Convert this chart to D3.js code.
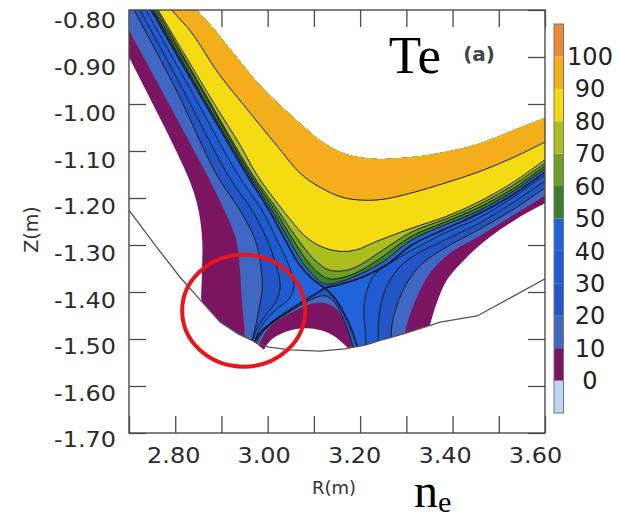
<!DOCTYPE html>
<html>
<head>
<meta charset="utf-8">
<title>Te contours</title>
<script src="https://cdn.jsdelivr.net/npm/d3@7/dist/d3.min.js"></script>
<style>
  body { margin: 0; background: #fff; }
  svg { display: block; font-family: "DejaVu Sans", sans-serif; }
</style>
</head>
<body>
<svg id="chart" width="617" height="519"></svg>
<script>
// Te (eV) in the divertor, R-Z plane.
// Contour lines as [R, Z] pairs in metres.

// colour bands, low to high
const levels = [-10, 0, 10, 20, 30, 40, 50, 60, 70, 80, 90, 100, 110];
const bandColors = ["#bcd5f0", "#7b1461", "#4068c2", "#2255c6", "#1f5bd3", "#2064dc",
                    "#3b7f2e", "#6f9e29", "#abbe1e", "#f5dc12", "#f4ad1b", "#ee8734"];
const cbLabels = [0, 10, 20, 30, 40, 50, 60, 70, 80, 90, 100];

// axes
const rTicks = [2.7, 2.8, 2.9, 3.0, 3.1, 3.2, 3.3, 3.4, 3.5, 3.6];
const rLabels = ["2.80", "3.00", "3.20", "3.40", "3.60"];
const zTicks = [-0.8, -0.9, -1.0, -1.1, -1.2, -1.3, -1.4, -1.5, -1.6, -1.7];
const zLabels = ["-0.80", "-0.90", "-1.00", "-1.10", "-1.20", "-1.30", "-1.40", "-1.50", "-1.60", "-1.70"];

// edge of the hot core region (white, not plotted)
const coreEdge = [[2.830,-0.774],[2.847,-0.800],[2.886,-0.843],[2.929,-0.896],[2.983,-0.960],[3.038,-1.013],[3.081,-1.051],[3.113,-1.077],[3.167,-1.106],[3.239,-1.117],[3.312,-1.113],[3.384,-1.102],[3.455,-1.085],[3.529,-1.057],[3.600,-1.030],[3.633,-1.017]];

// closed-around-core contours (top left -> right edge)
const te90 = [[2.784,-0.785],[2.793,-0.800],[2.836,-0.849],[2.893,-0.934],[2.957,-1.013],[3.022,-1.091],[3.070,-1.147],[3.113,-1.177],[3.167,-1.200],[3.239,-1.204],[3.312,-1.189],[3.384,-1.168],[3.455,-1.145],[3.529,-1.115],[3.600,-1.081],[3.633,-1.066]];
const te80 = [[2.754,-0.785],[2.763,-0.800],[2.821,-0.896],[2.886,-1.002],[2.940,-1.087],[2.977,-1.151],[3.033,-1.226],[3.081,-1.281],[3.113,-1.302],[3.152,-1.313],[3.189,-1.311],[3.239,-1.291],[3.312,-1.264],[3.384,-1.240],[3.455,-1.209],[3.529,-1.168],[3.600,-1.119],[3.633,-1.098]];
const te70 = [[2.751,-0.785],[2.760,-0.800],[2.854,-0.960],[2.968,-1.151],[3.022,-1.226],[3.063,-1.285],[3.098,-1.328],[3.124,-1.349],[3.141,-1.355],[3.174,-1.353],[3.204,-1.340],[3.243,-1.315],[3.312,-1.272],[3.384,-1.245],[3.455,-1.215],[3.529,-1.174],[3.600,-1.126],[3.633,-1.104]];
const te60 = [[2.748,-0.785],[2.756,-0.800],[2.854,-0.964],[2.964,-1.151],[3.016,-1.226],[3.055,-1.289],[3.087,-1.336],[3.113,-1.362],[3.133,-1.372],[3.167,-1.368],[3.204,-1.353],[3.247,-1.326],[3.312,-1.281],[3.384,-1.251],[3.455,-1.221],[3.529,-1.181],[3.600,-1.132],[3.633,-1.111]];
const te50 = [[2.743,-0.785],[2.752,-0.800],[2.849,-0.966],[2.960,-1.151],[3.009,-1.226],[3.046,-1.289],[3.076,-1.338],[3.102,-1.368],[3.124,-1.383],[3.161,-1.377],[3.204,-1.360],[3.252,-1.334],[3.312,-1.289],[3.384,-1.257],[3.455,-1.228],[3.529,-1.187],[3.600,-1.138],[3.633,-1.117]];

// separatrix
const sepLeft = [[2.739,-0.785],[2.748,-0.800],[2.845,-0.966],[2.955,-1.151],[3.003,-1.226],[3.038,-1.289],[3.066,-1.338],[3.094,-1.370],[3.124,-1.391]];
const sepRight = [[3.124,-1.391],[3.167,-1.381],[3.211,-1.366],[3.260,-1.340],[3.312,-1.300],[3.384,-1.266],[3.455,-1.234],[3.529,-1.194],[3.600,-1.145],[3.633,-1.123]];
const sepInner = [[2.966,-1.536],[2.968,-1.513],[2.986,-1.485],[3.012,-1.462],[3.048,-1.438],[3.092,-1.411],[3.124,-1.391]];
const sepOuter = [[3.124,-1.391],[3.148,-1.417],[3.167,-1.449],[3.182,-1.481],[3.193,-1.513],[3.198,-1.536]];

// SOL contours, inner leg (top -> inner target)
const left10 = [[2.670,-0.787],[2.700,-0.843],[2.869,-1.151],[2.906,-1.226],[2.932,-1.289],[2.940,-1.353],[2.944,-1.417],[2.949,-1.470],[2.953,-1.536]];
const left20 = [[2.702,-0.783],[2.711,-0.800],[2.800,-0.966],[2.890,-1.151],[2.940,-1.226],[2.973,-1.289],[2.986,-1.349],[2.988,-1.396],[2.981,-1.438],[2.973,-1.477],[2.957,-1.536]];
const left30 = [[2.715,-0.783],[2.724,-0.800],[2.815,-0.966],[2.914,-1.151],[2.966,-1.226],[2.999,-1.289],[3.018,-1.343],[3.027,-1.385],[3.020,-1.417],[2.996,-1.449],[2.975,-1.481],[2.960,-1.536]];
const left40 = [[2.728,-0.783],[2.737,-0.800],[2.836,-0.974],[2.936,-1.151],[2.988,-1.226],[3.020,-1.289],[3.046,-1.343],[3.057,-1.385],[3.048,-1.413],[3.020,-1.436],[2.996,-1.460],[2.981,-1.483],[2.962,-1.536]];

// SOL contours, outer leg (right edge -> outer target)
const right10 = [[3.633,-1.177],[3.600,-1.196],[3.529,-1.238],[3.455,-1.283],[3.395,-1.317],[3.351,-1.360],[3.323,-1.411],[3.304,-1.460],[3.297,-1.491],[3.295,-1.536]];
const right20 = [[3.633,-1.162],[3.600,-1.179],[3.529,-1.226],[3.455,-1.268],[3.384,-1.306],[3.334,-1.340],[3.301,-1.381],[3.280,-1.428],[3.269,-1.470],[3.267,-1.536]];
const right30 = [[3.633,-1.147],[3.600,-1.164],[3.529,-1.211],[3.455,-1.255],[3.384,-1.289],[3.319,-1.321],[3.280,-1.353],[3.254,-1.396],[3.241,-1.449],[3.239,-1.491],[3.239,-1.536]];
const right40 = [[3.633,-1.132],[3.600,-1.151],[3.529,-1.200],[3.455,-1.243],[3.384,-1.274],[3.312,-1.311],[3.269,-1.336],[3.232,-1.362],[3.215,-1.396],[3.208,-1.438],[3.211,-1.481],[3.213,-1.536]];

// private flux region under the X-point
const priv10 = [[2.973,-1.536],[2.977,-1.523],[2.988,-1.498],[3.005,-1.474],[3.031,-1.455],[3.059,-1.440],[3.085,-1.428],[3.109,-1.423],[3.131,-1.426],[3.150,-1.438],[3.165,-1.462],[3.176,-1.487],[3.182,-1.513],[3.187,-1.536]];
const priv20 = [[2.968,-1.536],[2.973,-1.515],[2.983,-1.494],[3.001,-1.474],[3.027,-1.455],[3.057,-1.436],[3.092,-1.417],[3.113,-1.409],[3.128,-1.409],[3.144,-1.421],[3.159,-1.447],[3.172,-1.477],[3.180,-1.502],[3.191,-1.536]];

// edge of the computational grid (outside is white)
const gridLeft = [[2.681,-0.862],[2.700,-0.900],[2.821,-1.140],[2.847,-1.211],[2.858,-1.283],[2.858,-1.353],[2.856,-1.413]];
const gridDome = [[2.992,-1.523],[2.998,-1.513],[3.011,-1.499],[3.033,-1.487],[3.059,-1.479],[3.087,-1.477],[3.113,-1.481],[3.137,-1.490],[3.157,-1.504],[3.174,-1.519]];
const gridRight = [[3.351,-1.471],[3.356,-1.453],[3.366,-1.423],[3.388,-1.374],[3.431,-1.326],[3.481,-1.283],[3.546,-1.240],[3.600,-1.211],[3.633,-1.194]];

// divertor wall
const wall = [[2.700,-1.226],[2.761,-1.306],[2.810,-1.368],[2.858,-1.421],[2.897,-1.464],[2.936,-1.489],[2.968,-1.504],[2.999,-1.517],[3.048,-1.523],[3.113,-1.526],[3.167,-1.521],[3.211,-1.513],[3.254,-1.500],[3.301,-1.487],[3.373,-1.464],[3.453,-1.451],[3.524,-1.413],[3.600,-1.372]];

// annotations
const spot = {R: 2.948, Z: -1.440, dR: 0.133, dZ: 0.119};   // red ring round the inner strike point
const teTag = {R: 3.262, Z: -0.934};
const panelTag = {R: 3.423, Z: -0.909};

// ---- setup ----
const svg = d3.select("#chart");
const W = +svg.attr("width"), H = +svg.attr("height");
const margin = {top: 10, right: 72, bottom: 86, left: 129};
const ink = "#4a4a4a";
const tickLen = 17;

const x = d3.scaleLinear().domain([2.7, 3.6]).range([margin.left, W - margin.right]);
const y = d3.scaleLinear().domain([-0.8, -1.7]).range([margin.top, H - margin.bottom]);
const farR = [2.55, 3.75], farZ = [-0.65, -1.85];

const curve = d3.line().x(d => x(d[0])).y(d => y(d[1])).curve(d3.curveCatmullRom.alpha(0.5));
const poly = d3.line().x(d => x(d[0])).y(d => y(d[1]));
const seg = (pts, first) => first ? curve(pts) : "L" + curve(pts).slice(1);
const lin = pts => pts.map(p => "L" + x(p[0]) + "," + y(p[1])).join("");

// region above/right of a line that runs from the top edge to the right edge
function hotPath(line) {
  const a = line[0], b = line[line.length - 1];
  return seg(line, true) + lin([[farR[1], b[1]], [farR[1], farZ[0]], [a[0], farZ[0]]]) + "Z";
}
// region above a left leg line, the private-region line(s) and a right leg line
function coolPath(left, priv, right) {
  const rUp = right.slice().reverse();
  return seg(left, true) + priv.map(p => seg(p, false)).join("") + seg(rUp, false) +
    lin([[farR[1], right[0][1]], [farR[1], farZ[0]], [left[0][0], farZ[0]]]) + "Z";
}
function outsidePath() {
  const wallA = wall.filter(p => p[0] > 2.857 && p[0] < 2.990);
  const wallB = wall.filter(p => p[0] > 3.178 && p[0] < 3.351);
  const last = gridRight[gridRight.length - 1];
  return seg(gridLeft, true) + lin(wallA) + seg(gridDome, false) + lin(wallB) + seg(gridRight, false) +
    lin([[farR[1], last[1]], [farR[1], farZ[1]], [farR[0], farZ[1]], [farR[0], gridLeft[0][1]]]) + "Z";
}

// ---- ticks (under the colours, as in the original) ----
const ticks = svg.append("g");
ticks.append("g").attr("transform", `translate(0,${y.range()[1]})`)
  .call(d3.axisBottom(x).tickValues(rTicks).tickSize(-tickLen).tickFormat(""));
ticks.append("g").attr("transform", `translate(0,${y.range()[0]})`)
  .call(d3.axisTop(x).tickValues(rTicks).tickSize(-tickLen).tickFormat(""));
ticks.append("g").attr("transform", `translate(${x.range()[0]},0)`)
  .call(d3.axisLeft(y).tickValues(zTicks).tickSize(-tickLen).tickFormat(""));
ticks.append("g").attr("transform", `translate(${x.range()[1]},0)`)
  .call(d3.axisRight(y).tickValues(zTicks).tickSize(-tickLen).tickFormat(""));
ticks.selectAll(".domain").remove();
ticks.selectAll("line").attr("stroke", ink).attr("stroke-width", 1.3);

// ---- filled contours ----
const defs = svg.append("defs");
defs.append("clipPath").attr("id", "frameClip").append("rect")
  .attr("x", x.range()[0]).attr("y", y.range()[0])
  .attr("width", x.range()[1] - x.range()[0]).attr("height", y.range()[1] - y.range()[0]);
defs.append("clipPath").attr("id", "gridClip").append("path")
  .attr("clip-rule", "evenodd")
  .attr("d", "M-100,-100H800V700H-100Z" + hotPath(coreEdge) + outsidePath());

const plot = svg.append("g").attr("clip-path", "url(#frameClip)");
const field = plot.append("g").attr("clip-path", "url(#gridClip)");

const colorOf = L => bandColors[levels.indexOf(L)];
field.append("rect").attr("x", 0).attr("y", 0).attr("width", W).attr("height", H).attr("fill", colorOf(0));

const coolSets = [
  [10, left10, [priv10], right10],
  [20, left20, [priv20], right20],
  [30, left30, [sepInner, sepOuter], right30],
  [40, left40, [sepInner, sepOuter], right40]
];
const hotSets = [[50, te50], [60, te60], [70, te70], [80, te80], [90, te90]];

coolSets.forEach(([L, l, p, r]) => {
  field.append("path").attr("d", coolPath(l, p, r)).attr("fill", colorOf(L));
});
hotSets.forEach(([L, line]) => {
  field.append("path").attr("d", hotPath(line)).attr("fill", colorOf(L));
});

// contour lines
const contourLines = [left20, left30, left40, right20, right30, right40, priv20,
                      te50, te60, te70, te80, te90];
field.selectAll("path.iso").data(contourLines).enter().append("path")
  .attr("class", "iso")
  .attr("d", d => curve(d))
  .attr("fill", "none").attr("stroke", "#1b1b1b").attr("stroke-width", 1);
field.selectAll("path.sep").data([sepLeft, sepRight, sepInner, sepOuter]).enter().append("path")
  .attr("class", "sep")
  .attr("d", d => curve(d))
  .attr("fill", "none").attr("stroke", "#111").attr("stroke-width", 1.5);

// wall
plot.append("path").attr("d", poly(wall))
  .attr("fill", "none").attr("stroke", "#555").attr("stroke-width", 1.3);

// frame
svg.append("rect")
  .attr("x", x.range()[0]).attr("y", y.range()[0])
  .attr("width", x.range()[1] - x.range()[0]).attr("height", y.range()[1] - y.range()[0])
  .attr("fill", "none").attr("stroke", ink).attr("stroke-width", 1.4);

// ---- tick labels (slightly offset from the ticks in the original) ----
const xLab = x.copy().domain([2.8, 3.6]).range([x(2.8) - 2, x(3.6) - 10]);
const yLab = y.copy().range([y(-0.8) + 11, y(-1.7) + 7]);

const xl = svg.append("g").attr("transform", `translate(0,${y.range()[1] + 15})`)
  .call(d3.axisBottom(xLab).tickValues(rLabels.map(Number)).tickSize(0).tickPadding(0)
    .tickFormat((d, i) => rLabels[i]));
const yl = svg.append("g").attr("transform", `translate(${x.range()[0] - 13},0)`)
  .call(d3.axisLeft(yLab).tickValues(zTicks).tickSize(0).tickPadding(0)
    .tickFormat((d, i) => zLabels[i]));
[xl, yl].forEach(g => {
  g.select(".domain").remove();
  g.selectAll("text")
    .attr("font-family", "DejaVu Sans, sans-serif").attr("font-size", 21)
    .attr("fill", "#2b2b2b").attr("transform", "scale(1.14,1)");
});

svg.append("text")
  .attr("x", (x.range()[0] + x.range()[1]) / 2 - 3).attr("y", H - 25)
  .attr("text-anchor", "middle").attr("font-size", 18).attr("fill", "#333")
  .text("R(m)");
svg.append("text")
  .attr("transform", `translate(38,${(y.range()[0] + y.range()[1]) / 2 + 8}) rotate(-90)`)
  .attr("text-anchor", "middle").attr("font-size", 19).attr("fill", "#333")
  .text("Z(m)");

// ---- colour bar ----
const cb = d3.scaleLinear().domain([levels[0], levels[levels.length - 1]])
  .range([y.range()[1] - 20, y.range()[0] + 14]);
const cbX = x.range()[1] + 9, cbW = 9.5;
const bar = svg.append("g");
bar.selectAll("rect.band").data(bandColors).enter().append("rect")
  .attr("class", "band")
  .attr("x", cbX).attr("width", cbW)
  .attr("y", (d, i) => cb(levels[i + 1]))
  .attr("height", (d, i) => cb(levels[i]) - cb(levels[i + 1]))
  .attr("fill", d => d);
bar.append("rect")
  .attr("x", cbX).attr("width", cbW)
  .attr("y", cb(levels[levels.length - 1])).attr("height", cb(levels[0]) - cb(levels[levels.length - 1]))
  .attr("fill", "none").attr("stroke", "#777").attr("stroke-width", 1);
bar.selectAll("text").data(cbLabels).enter().append("text")
  .attr("x", cbX + 36).attr("y", d => cb(d)).attr("dy", "0.36em")
  .attr("text-anchor", "middle").attr("font-size", 24).attr("fill", "#222")
  .text(d => d);

// ---- annotations ----
svg.append("text")
  .attr("x", x(teTag.R)).attr("y", y(teTag.Z))
  .attr("font-family", "Liberation Serif, Times New Roman, serif").attr("font-size", 53).attr("fill", "#000")
  .text("Te");
svg.append("text")
  .attr("x", x(panelTag.R)).attr("y", y(panelTag.Z))
  .attr("font-size", 20).attr("font-weight", "bold").attr("fill", "#444")
  .text("(a)");

svg.append("ellipse")
  .attr("cx", x(spot.R)).attr("cy", y(spot.Z))
  .attr("rx", x(spot.R + spot.dR) - x(spot.R)).attr("ry", y(spot.Z - spot.dZ) - y(spot.Z))
  .attr("fill", "none").attr("stroke", "#e8161b").attr("stroke-width", 4);

const ne = svg.append("text")
  .attr("x", x(3.3166)).attr("y", H - 12)
  .attr("font-family", "Liberation Serif, Times New Roman, serif").attr("font-size", 48).attr("fill", "#000");
ne.append("tspan").text("n");
ne.append("tspan").attr("font-size", 30).attr("dy", 5).text("e");
</script>
</body>
</html>
